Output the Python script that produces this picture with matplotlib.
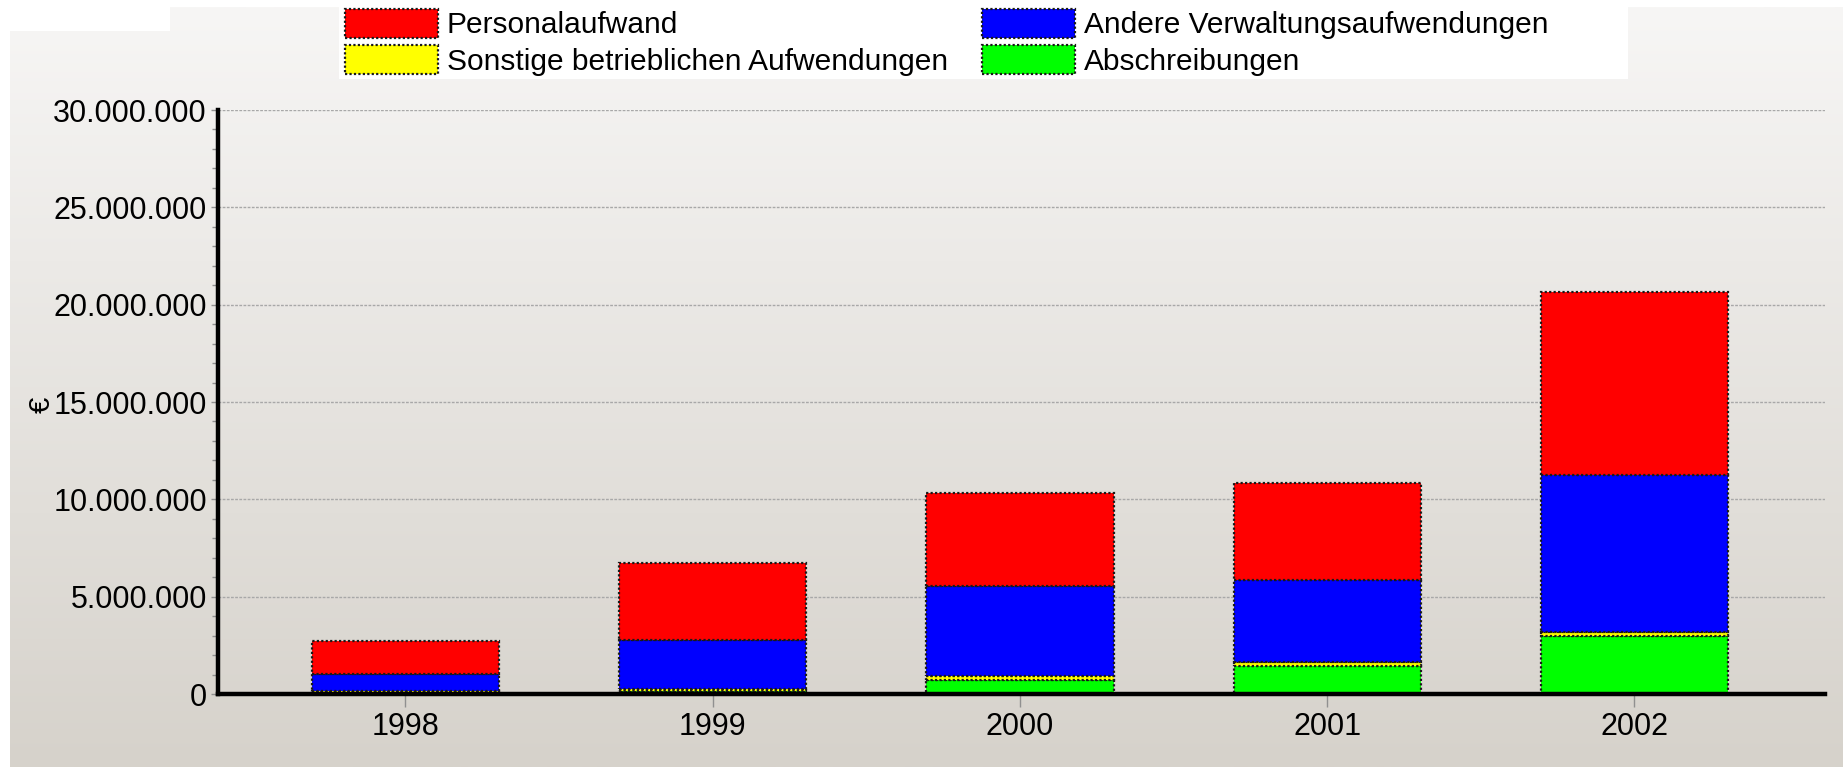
import numpy as np
import matplotlib
matplotlib.use("Agg")
import matplotlib.pyplot as plt
from matplotlib.patches import Rectangle
from matplotlib.ticker import FuncFormatter, MultipleLocator

YEARS = ["1998", "1999", "2000", "2001", "2002"]

# values in EUR, stacked bottom -> top
ABSCHREIBUNGEN = [80_000, 150_000, 700_000, 1_450_000, 3_000_000]
SONSTIGE       = [50_000, 100_000, 200_000, 200_000, 200_000]
VERWALTUNG     = [920_000, 2_500_000, 4_670_000, 4_220_000, 8_050_000]
PERSONAL       = [1_650_000, 4_000_000, 4_780_000, 4_980_000, 9_390_000]

SERIES = [
    ("Abschreibungen", ABSCHREIBUNGEN, "#00ff00"),
    ("Sonstige betrieblichen Aufwendungen", SONSTIGE, "#ffff00"),
    ("Andere Verwaltungsaufwendungen", VERWALTUNG, "#0000ff"),
    ("Personalaufwand", PERSONAL, "#ff0000"),
]

W, H = 1843, 767
plt.rcParams.update({
    "font.family": ["Liberation Sans", "DejaVu Sans"],
    "font.size": 22,
})

fig = plt.figure(figsize=(W / 100, H / 100), dpi=100)
fig.patch.set_facecolor("white")

# gradient panel behind everything
bg = fig.add_axes([10 / W, 0, 1 - 10 / W, (H - 7) / H], zorder=-10)
grad = np.linspace(0, 1, 256)[:, None]
top_c = np.array([247, 246, 245]) / 255
bot_c = np.array([214, 210, 203]) / 255
img = top_c[None, None, :] * (1 - grad[..., None]) + bot_c[None, None, :] * grad[..., None]
bg.imshow(img, aspect="auto", extent=[0, 1, 0, 1])
bg.set_axis_off()
fig.patches.append(Rectangle((0, 1 - 31 / H), 170 / W, 31 / H,
                             transform=fig.transFigure, facecolor="white",
                             edgecolor="none", zorder=-5))
fig.patches.append(Rectangle((339 / W, 1 - 79 / H), (1628 - 339) / W, 79 / H,
                             transform=fig.transFigure, facecolor="white",
                             edgecolor="none", zorder=-5))

ax = fig.add_axes([218 / W, (H - 694) / H, (1825 - 218) / W, (694 - 110) / H])
ax.patch.set_visible(False)

x = np.arange(len(YEARS))
bottom = np.zeros(len(YEARS))
handles = {}
for label, vals, color in SERIES:
    vals = np.array(vals, dtype=float)
    b = ax.bar(x, vals, width=0.61, bottom=bottom, color=color,
               edgecolor="#1a1a1a", linewidth=1.6, linestyle=(0, (1, 1)),
               label=label, zorder=3)
    handles[label] = b
    bottom += vals

ax.set_xlim(-0.61, len(YEARS) - 1 + 0.62)
ax.set_ylim(0, 30_000_000)
ax.set_xticks(x)
ax.set_xticklabels(YEARS)
ax.yaxis.set_major_locator(MultipleLocator(5_000_000))
ax.yaxis.set_minor_locator(MultipleLocator(1_000_000))
ax.yaxis.set_major_formatter(FuncFormatter(lambda v, p: f"{int(v):,}".replace(",", ".")))

ax.grid(axis="y", color="#a8a8a8", linestyle=(0, (2, 1)), linewidth=1.0, zorder=0)
ax.set_axisbelow(True)

for s in ["top", "right"]:
    ax.spines[s].set_visible(False)
for s in ["left", "bottom"]:
    ax.spines[s].set_linewidth(3.2)
    ax.spines[s].set_color("black")
    ax.spines[s].set_zorder(5)

ax.tick_params(axis="y", which="major", length=5, width=1, color="#909090", pad=3, labelsize=22)
ax.tick_params(axis="y", which="minor", length=4, width=1, color="#909090")
ax.tick_params(axis="x", length=9, width=1, color="#909090", pad=4, labelsize=22)

fig.text(42 / W, 1 - 405 / H, "€", rotation=90, ha="center", va="center", fontsize=21)

order = ["Personalaufwand", "Sonstige betrieblichen Aufwendungen",
         "Andere Verwaltungsaufwendungen", "Abschreibungen"]
leg = fig.legend([handles[k] for k in order], order, ncol=2,
                 loc="upper left", bbox_to_anchor=(345 / W, 1 - 9 / H),
                 frameon=False, borderpad=0, borderaxespad=0,
                 handlelength=3.1, handleheight=1.1, handletextpad=0.3,
                 labelspacing=0.2, columnspacing=1.15, fontsize=21.5)

fig.savefig("out.png", dpi=100)
